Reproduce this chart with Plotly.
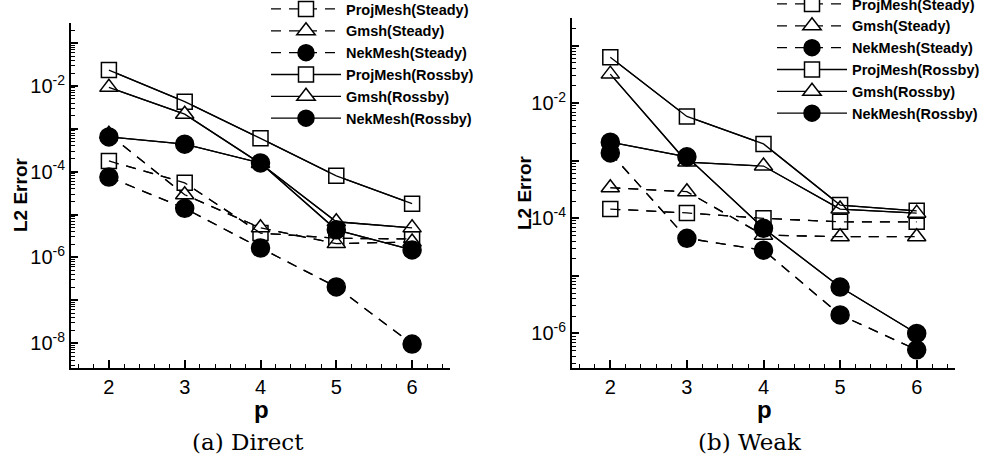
import plotly.graph_objects as go

# ---------------- data ----------------
p = [2, 3, 4, 5, 6]
series_names = ["ProjMesh(Steady)", "Gmsh(Steady)", "NekMesh(Steady)",
                "ProjMesh(Rossby)", "Gmsh(Rossby)", "NekMesh(Rossby)"]

# (a) Direct
direct_proj_steady = [1.78e-4, 5.5e-5, 3.7e-6, 2.8e-6, 2.7e-6]
direct_gmsh_steady = [7.5e-4, 2.9e-5, 4.9e-6, 2.1e-6, 2.3e-6]
direct_nek_steady = [7.5e-5, 1.4e-5, 1.66e-6, 2.05e-7, 9.5e-9]
direct_proj_rossby = [2.35e-2, 4.3e-3, 6.0e-4, 8.0e-5, 1.8e-5]
direct_gmsh_rossby = [9.3e-3, 2.2e-3, 1.55e-4, 6.8e-6, 4.9e-6]
direct_nek_rossby = [6.5e-4, 4.4e-4, 1.6e-4, 4.4e-6, 1.5e-6]

# (b) Weak
weak_proj_steady = [1.45e-4, 1.24e-4, 1.0e-4, 8.7e-5, 8.7e-5]
weak_gmsh_steady = [3.4e-4, 2.9e-4, 5.1e-5, 4.8e-5, 4.8e-5]
weak_nek_steady = [1.37e-3, 4.5e-5, 2.8e-5, 2.1e-6, 5.2e-7]
weak_proj_rossby = [6.3e-2, 5.9e-3, 1.96e-3, 1.7e-4, 1.35e-4]
weak_gmsh_rossby = [3.2e-2, 9.5e-4, 8.1e-4, 1.45e-4, 1.23e-4]
weak_nek_rossby = [2.1e-3, 1.17e-3, 6.7e-5, 6.4e-6, 1.0e-6]

direct_data = [direct_proj_steady, direct_gmsh_steady, direct_nek_steady,
               direct_proj_rossby, direct_gmsh_rossby, direct_nek_rossby]
weak_data = [weak_proj_steady, weak_gmsh_steady, weak_nek_steady,
             weak_proj_rossby, weak_gmsh_rossby, weak_nek_rossby]

# tick labels
ytick_exps_a = [-1, -2, -3, -4, -5, -6, -7, -8]
ytick_exps_b = [-1, -2, -3, -4, -5, -6]
xtick_vals = [2, 3, 4, 5, 6]

# ---------------- styles ----------------
symbols = ["square", "triangle-up", "circle"] * 2
fills = ["white", "white", "black"] * 2
sizes = [15, 16, 18] * 2
dashes = ["10px,8px"] * 3 + ["solid"] * 3
SANS = "Liberation Sans"

fig = go.Figure()

panels = [("x", "y", "legend", direct_data), ("x2", "y2", "legend2", weak_data)]
for xa, ya, leg, data in panels:
    for i, vals in enumerate(data):
        fig.add_trace(go.Scatter(
            x=p, y=vals, xaxis=xa, yaxis=ya, name=series_names[i], legend=leg,
            mode="lines+markers",
            line=dict(color="black", width=1.3, dash=dashes[i]),
            marker=dict(symbol=symbols[i], size=sizes[i], color=fills[i],
                        line=dict(color="black", width=1.5)),
        ))
    # lines drawn over the symbols, as in the reference
    for i, vals in enumerate(data):
        fig.add_trace(go.Scatter(
            x=p, y=vals, xaxis=xa, yaxis=ya, showlegend=False, hoverinfo="skip",
            mode="lines", line=dict(color="black", width=1.3, dash=dashes[i]),
        ))

W, H = 997, 463
tickfont = dict(family=SANS, size=20, color="black")


def xaxis(dom, anchor):
    return dict(domain=dom, anchor=anchor, range=[1.5, 6.5], tickmode="array",
                tickvals=xtick_vals, ticktext=[str(v) for v in xtick_vals],
                ticks="inside", ticklen=8, tickwidth=1.5, tickcolor="black",
                minor=dict(ticks="inside", ticklen=4, tickwidth=1, tickcolor="black",
                           dtick=0.2, tick0=2, showgrid=False),
                showline=True, linecolor="black", linewidth=2, showgrid=False,
                zeroline=False, tickfont=tickfont)


def yaxis(dom, anchor, rng, exps):
    return dict(domain=dom, anchor=anchor, type="log", range=rng, tickmode="array",
                tickvals=[10.0 ** e for e in exps],
                ticktext=[("10<sup>%d</sup>" % e) if e % 2 == 0 else "" for e in exps],
                ticks="inside", ticklen=7, tickwidth=1.5, tickcolor="black",
                minor=dict(ticks="inside", ticklen=3.5, tickwidth=1, tickcolor="black",
                           dtick="D1", showgrid=False),
                showline=True, linecolor="black", linewidth=2, showgrid=False,
                zeroline=False, tickfont=tickfont)


legfont = dict(family=SANS, size=14.5, color="black", weight="bold")

fig.update_layout(
    width=W, height=H, margin=dict(l=0, r=0, t=0, b=0, autoexpand=False),
    paper_bgcolor="white", plot_bgcolor="white",
    xaxis=xaxis([71 / W, 450 / W], "y"),
    yaxis=yaxis([(H - 368) / H, (H - 23) / H], "x", [-8.58, -0.53], ytick_exps_a),
    xaxis2=xaxis([572 / W, 955 / W], "y2"),
    yaxis2=yaxis([(H - 368) / H, (H - 18) / H], "x2", [-6.60, -0.52], ytick_exps_b),
    legend=dict(x=266 / W, y=1 + 7 / H, xanchor="left", yanchor="top", font=legfont,
                bgcolor="rgba(0,0,0,0)", itemwidth=70, tracegroupgap=0,
                traceorder="normal"),
    legend2=dict(x=772 / W, y=1 + 12 / H, xanchor="left", yanchor="top", font=legfont,
                 bgcolor="rgba(0,0,0,0)", itemwidth=70, tracegroupgap=0,
                 traceorder="normal"),
    showlegend=True,
)

titlefont = dict(family=SANS, size=19, color="black", weight="bold")
pfont = dict(family=SANS, size=24, color="black", weight="bold")
capfont = dict(family="DejaVu Serif", size=23, color="black")

ann = [
    dict(text="L2 Error", x=20 / W, y=(H - 195) / H, textangle=-90, font=titlefont),
    dict(text="L2 Error", x=524 / W, y=(H - 193) / H, textangle=-90, font=titlefont),
    dict(text="p", x=261 / W, y=(H - 409) / H, font=pfont),
    dict(text="p", x=764 / W, y=(H - 409) / H, font=pfont),
    dict(text="(a) Direct", x=248 / W, y=(H - 442) / H, font=capfont),
    dict(text="(b) Weak", x=750 / W, y=(H - 442) / H, font=capfont),
]
for a in ann:
    fig.add_annotation(xref="paper", yref="paper", showarrow=False,
                       xanchor="center", yanchor="middle", **a)

fig.write_html("out.html")
